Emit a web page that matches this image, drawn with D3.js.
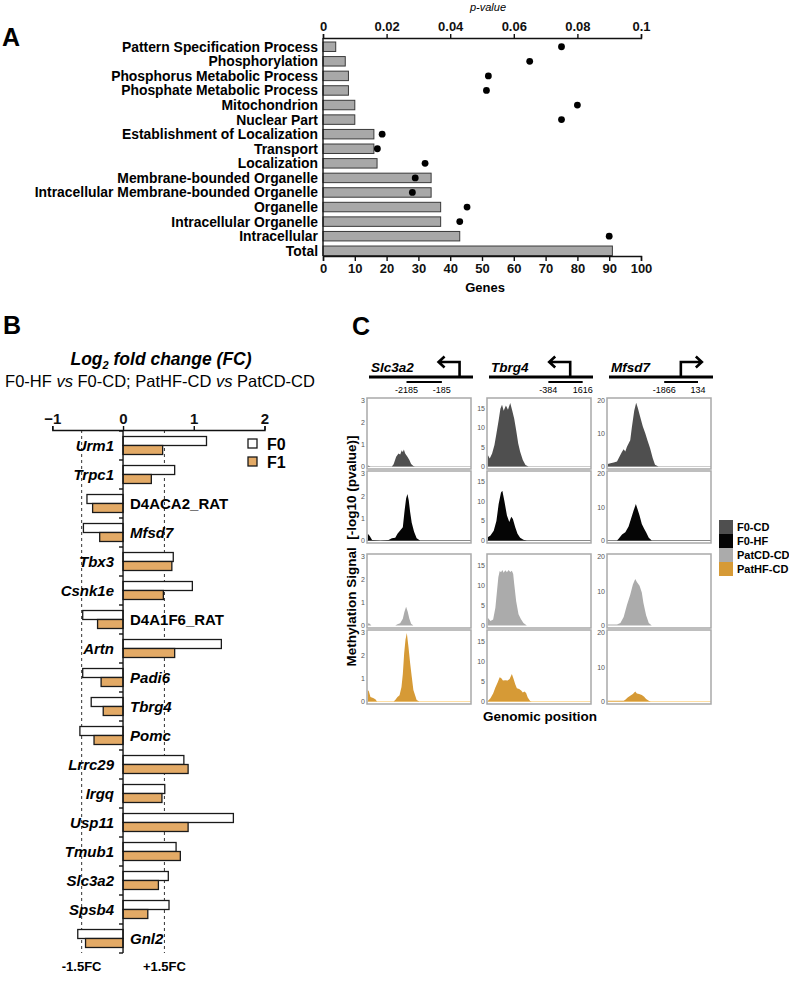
<!DOCTYPE html>
<html>
<head>
<meta charset="utf-8">
<script src="https://cdn.jsdelivr.net/npm/d3@7"></script>
<style>
  body { margin: 0; background: #fff; }
</style>
</head>
<body>
<svg id="fig" width="789" height="999"></svg>
<script>
// ---------- data: panel A (GO enrichment)
const goTerms = ["Pattern Specification Process", "Phosphorylation", "Phosphorus Metabolic Process",
  "Phosphate Metabolic Process", "Mitochondrion", "Nuclear Part", "Establishment of Localization",
  "Transport", "Localization", "Membrane-bounded Organelle", "Intracellular Membrane-bounded Organelle",
  "Organelle", "Intracellular Organelle", "Intracellular", "Total"];
const goGenes = [4, 7, 8, 8, 10, 10, 16, 16, 17, 34, 34, 37, 37, 43, 91];
const goPvals = [0.075, 0.065, 0.052, 0.0514, 0.080, 0.075, 0.0186, 0.0171, 0.0321, 0.029, 0.0281,
  0.0453, 0.043, 0.090, null];
const geneTicks = [0, 10, 20, 30, 40, 50, 60, 70, 80, 90, 100];
const pTicks = [0, 0.02, 0.04, 0.06, 0.08, 0.1];

// ---------- data: panel B (log2 fold change)
const fcGenes = ["Urm1", "Trpc1", "D4ACA2_RAT", "Mfsd7", "Tbx3", "Csnk1e", "D4A1F6_RAT", "Artn", "Padi6",
  "Tbrg4", "Pomc", "Lrrc29", "Irgq", "Usp11", "Tmub1", "Slc3a2", "Spsb4", "Gnl2"];
const fcF0 = [1.18, 0.73, -0.51, -0.56, 0.71, 0.98, -0.57, 1.39, -0.57, -0.45, -0.61, 0.86, 0.59, 1.56, 0.75, 0.64, 0.65, -0.64];
const fcF1 = [0.56, 0.40, -0.43, -0.33, 0.69, 0.57, -0.36, 0.73, -0.31, -0.28, -0.41, 0.92, 0.55, 0.92, 0.81, 0.50, 0.35, -0.53];
const fcTicks = [-1, 0, 1, 2];
const fcThreshold = Math.log2(1.5);

// ---------- data: panel C (methylation signal, [position % of window, -log10 p])
const cGenes = ["Slc3a2", "Tbrg4", "Mfsd7"];
const cGroups = ["F0-CD", "F0-HF", "PatCD-CD", "PatHF-CD"];
const cColors = ["#4f4f4f", "#050505", "#ababab", "#d69a36"];
const cTicks = [[0, 1, 2, 3], [0, 5, 10, 15], [0, 10, 20]];
const cMax = [3, 17, 20];
const regionLabels = [["-2185", "-185"], ["-384", "1616"], ["-1866", "134"]];
const strand = ["-", "-", "+"];

const slc3a2_F0CD = [[0,0.05],[2.6,0],[23.5,0],[25.2,0.1],[27.7,0.45],[30,0.6],[31.6,0.55],[33.2,0.75],[34.2,0.65],
  [35.2,0.78],[36.5,0.6],[38.7,0.45],[40.6,0.3],[42.3,0.12],[44.5,0.02],[46.1,0],[100,0]];
const slc3a2_F0HF = [[0,0.3],[1.9,0.2],[4.2,0.02],[12.3,0],[20.3,0.02],[23.5,0.1],[26.8,0.12],[29,0.3],[31.6,0.45],
  [34.2,0.6],[35.8,1.3],[37.4,1.9],[38.7,2.1],[40,1.8],[41.3,1.3],[42.9,0.8],[45.2,0.4],[47.7,0.1],[51,0],[100,0]];
const slc3a2_PatCD = [[0,0.1],[1.9,0.08],[3.5,0],[26.8,0],[29,0.05],[31.6,0.1],[34.2,0.3],[35.8,0.6],[37.4,0.82],
  [39,0.6],[40.6,0.3],[42.3,0.08],[44.5,0],[100,0]];
const slc3a2_PatHF = [[0,0.5],[1,0.45],[2.6,0.2],[5.2,0.15],[7.4,0.1],[9,0],[25.2,0],[26.8,0.07],[29,0.2],[31,0.27],
  [32.9,0.63],[34.2,1.2],[35.5,2.1],[36.8,2.7],[38.1,3.0],[39.7,2.4],[41.3,1.7],[42.9,1.1],[44.5,0.5],[47.7,0.07],[50.3,0],[100,0]];

const tbrg4_F0CD = [[0,3.0],[1.9,2.1],[4.2,3.4],[6.5,5.6],[8.4,8.5],[10.6,12],[12.3,15],[13.9,16],[15.5,14.5],[17.7,15.8],
  [19.7,14.7],[21.9,16.5],[23.9,14.5],[25.8,12.4],[27.7,9.4],[29.7,6],[31.6,3.8],[34.2,1.7],[36.8,0.4],[39.7,0],[100,0]];
const tbrg4_F0HF = [[0,0.85],[2.6,1.3],[5.8,2.5],[8.4,5],[10.6,9.3],[12.9,12.3],[14.2,12.7],[16.1,10.2],[18.7,6.4],
  [21,4.7],[22.9,6.1],[24.5,5.5],[26.8,3.4],[29,1.7],[31.6,0.7],[34.8,0.2],[38.1,0],[100,0]];
const tbrg4_PatCD = [[0,1.9],[2.6,1.1],[5.2,1.5],[7.4,4.4],[9,8.6],[10.3,12],[11.6,13.5],[12.9,13.2],[14.2,13.8],
  [15.5,13.1],[17.1,13.7],[18.7,13.2],[20.3,13.8],[21.9,13.3],[23.5,13.6],[24.8,12.8],[25.8,10.3],[27.7,6],[30,2.8],
  [32.3,1.6],[34.8,0.65],[38.1,0],[100,0]];
const tbrg4_PatHF = [[0,0.15],[2.6,0.8],[5.2,2],[7.4,3.5],[9.7,4.75],[11.6,6],[13.2,5.8],[14.8,5.2],[17.1,5.3],[19.4,5.2],
  [21.3,5.6],[23.5,6.8],[25.2,5.6],[26.8,4.3],[28.4,3.3],[30.6,3.1],[32.6,2.7],[34.2,2.25],[35.8,2.5],[37.4,2.1],
  [39,1],[41.3,0.15],[42.9,0],[100,0]];

const mfsd7_F0CD = [[0,0.8],[2.6,1.0],[5.8,1.2],[9,1.5],[10.6,2.5],[13.9,4.5],[15.5,5.3],[17.1,4.6],[18.7,6],[21.9,8],
  [23.5,12],[25.8,17],[27.7,19.5],[29.4,17.8],[31.6,15.2],[34.2,12.2],[36.5,10.2],[38.7,8],[41.3,5.6],[43.9,2.5],
  [46.1,0.5],[49.4,0],[100,0]];
const mfsd7_F0HF = [[0,0],[9,0],[10.6,0.5],[13.9,1.8],[17.1,2.5],[20.3,4.2],[22.6,6.5],[25.2,9],[27.4,11],[29,9.5],
  [31,7.5],[33.2,5],[35.5,3.5],[37.4,2.5],[40,0.8],[42.9,0],[100,0]];
const mfsd7_PatCD = [[0,0.3],[9,0.3],[12.3,0.7],[15.5,2.5],[18.7,6],[21.9,9],[24.5,12],[26.8,13.6],[28.4,12.7],
  [31,11.6],[33.2,9.6],[34.8,6.6],[37.4,3],[40,0.7],[42.9,0],[100,0]];
const mfsd7_PatHF = [[0,0.2],[15.5,0.2],[17.1,0.5],[19.4,1.2],[21.9,1.7],[24.5,2.2],[26.8,2.9],[28.4,2.35],[30.6,2.2],
  [33.2,1.9],[35.5,1.4],[37.4,0.7],[40,0.2],[41.9,0],[100,0]];

const cProfiles = [
  [slc3a2_F0CD, slc3a2_F0HF, slc3a2_PatCD, slc3a2_PatHF],
  [tbrg4_F0CD, tbrg4_F0HF, tbrg4_PatCD, tbrg4_PatHF],
  [mfsd7_F0CD, mfsd7_F0HF, mfsd7_PatCD, mfsd7_PatHF]
];

// ---------- drawing
const FONT = '"Liberation Sans", Arial, Helvetica, sans-serif';
const svg = d3.select("#fig").attr("font-family", FONT);

function styleAxis(g, size) {
  g.select(".domain").attr("stroke", "#111").attr("stroke-width", 1.4);
  g.selectAll(".tick line").attr("stroke", "#111").attr("stroke-width", 1.4);
  g.selectAll(".tick text").attr("font-family", FONT).attr("font-weight", "bold")
    .attr("font-size", size).attr("fill", "#111");
}

function panelLetter(t, x, y) {
  svg.append("text").attr("x", x).attr("y", y).attr("font-size", 25).attr("font-weight", "bold").text(t);
}

// ===== Panel A
panelLetter("A", 2, 46);

const xA = d3.scaleLinear().domain([0, 100]).range([323, 641]);
const pA = d3.scaleLinear().domain([0, 0.1]).range([323, 641]);
const yA = d3.scaleBand().domain(goTerms).range([42, 255.5]).paddingInner(0.35).paddingOuter(0);

const gA = svg.append("g");

gA.selectAll("rect.bar").data(goTerms).join("rect")
  .attr("class", "bar")
  .attr("x", xA(0))
  .attr("y", d => yA(d))
  .attr("width", (d, i) => xA(goGenes[i]) - xA(0))
  .attr("height", yA.bandwidth())
  .attr("fill", "#a8a8a8")
  .attr("stroke", "#3a3a3a")
  .attr("stroke-width", 1);

gA.selectAll("circle").data(goTerms.filter((d, i) => goPvals[i] !== null)).join("circle")
  .attr("cx", d => pA(goPvals[goTerms.indexOf(d)]))
  .attr("cy", d => yA(d) + yA.bandwidth() / 2)
  .attr("r", 3.4)
  .attr("fill", "#000");

gA.selectAll("text.term").data(goTerms).join("text")
  .attr("class", "term")
  .attr("x", 318)
  .attr("y", d => yA(d) + yA.bandwidth() / 2)
  .attr("dy", "0.36em")
  .attr("text-anchor", "end")
  .attr("font-size", 13.9)
  .attr("font-weight", "bold")
  .text(d => d);

// left spine
gA.append("line").attr("x1", xA(0)).attr("x2", xA(0)).attr("y1", 38).attr("y2", 256)
  .attr("stroke", "#111").attr("stroke-width", 1.4);

const topAxisA = gA.append("g").attr("transform", "translate(0,38)")
  .call(d3.axisTop(pA).tickValues(pTicks).tickSize(4).tickPadding(3)
    .tickFormat(d => String(+d.toFixed(2))));
styleAxis(topAxisA, 13);

const botAxisA = gA.append("g").attr("transform", "translate(0,256)")
  .call(d3.axisBottom(xA).tickValues(geneTicks).tickSize(5).tickPadding(3));
styleAxis(botAxisA, 13);

gA.append("text").attr("x", 488).attr("y", 11).attr("text-anchor", "middle")
  .attr("font-size", 11).attr("font-style", "italic").text("p-value");
gA.append("text").attr("x", 485).attr("y", 292).attr("text-anchor", "middle")
  .attr("font-size", 13).attr("font-weight", "bold").text("Genes");

// ===== Panel B
panelLetter("B", 3, 334);

const xB = d3.scaleLinear().domain([-1, 2]).range([52.3, 264.5]);
const yB = d3.scaleBand().domain(fcGenes).range([431, 953]).paddingInner(0.38).paddingOuter(0.19);
const yIn = d3.scaleBand().domain(["F0", "F1"]).range([0, yB.bandwidth()]);
const stepB = yB.step();
const gB = svg.append("g");

const titleB = gB.append("text").attr("x", 161).attr("y", 365).attr("text-anchor", "middle")
  .attr("font-size", 17.5).attr("font-weight", "bold").attr("font-style", "italic");
titleB.append("tspan").text("Log");
titleB.append("tspan").attr("font-size", 11).attr("dy", 4).text("2");
titleB.append("tspan").attr("dy", -4).text(" fold change (FC)");

const subB = gB.append("text").attr("x", 160).attr("y", 387).attr("text-anchor", "middle").attr("font-size", 16.5);
subB.append("tspan").text("F0-HF ");
subB.append("tspan").attr("font-style", "italic").text("vs");
subB.append("tspan").text(" F0-CD; PatHF-CD ");
subB.append("tspan").attr("font-style", "italic").text("vs");
subB.append("tspan").text(" PatCD-CD");

const yEnd = yB.range()[1];

// dashed 1.5 FC guides
gB.selectAll("line.guide").data([-fcThreshold, fcThreshold]).join("line")
  .attr("class", "guide")
  .attr("x1", d => xB(d)).attr("x2", d => xB(d))
  .attr("y1", 430).attr("y2", yEnd)
  .attr("stroke", "#333").attr("stroke-width", 1).attr("stroke-dasharray", "3,3");

const barsB = gB.selectAll("g.gene").data(fcGenes).join("g")
  .attr("class", "gene")
  .attr("transform", d => `translate(0,${yB(d)})`);

barsB.append("rect")
  .attr("x", (d, i) => xB(Math.min(0, fcF0[i])))
  .attr("y", yIn("F0"))
  .attr("width", (d, i) => Math.abs(xB(fcF0[i]) - xB(0)))
  .attr("height", yIn.bandwidth())
  .attr("fill", "#fff").attr("stroke", "#1a1a1a").attr("stroke-width", 1.3);

barsB.append("rect")
  .attr("x", (d, i) => xB(Math.min(0, fcF1[i])))
  .attr("y", yIn("F1"))
  .attr("width", (d, i) => Math.abs(xB(fcF1[i]) - xB(0)))
  .attr("height", yIn.bandwidth())
  .attr("fill", "#e3aa66").attr("stroke", "#1a1a1a").attr("stroke-width", 1.3);

barsB.append("text")
  .attr("x", (d, i) => fcF0[i] >= 0 ? xB(0) - 9 : xB(0) + 7)
  .attr("y", yB.bandwidth() / 2)
  .attr("dy", "0.36em")
  .attr("text-anchor", (d, i) => fcF0[i] >= 0 ? "end" : "start")
  .attr("font-size", 15)
  .attr("font-weight", "bold")
  .attr("font-style", d => d.endsWith("_RAT") ? "normal" : "italic")
  .text(d => d);

// vertical zero axis with ticks between genes
gB.append("line").attr("x1", xB(0)).attr("x2", xB(0)).attr("y1", 430).attr("y2", yEnd)
  .attr("stroke", "#111").attr("stroke-width", 1.4);
gB.selectAll("line.sep").data(d3.range(fcGenes.length + 1)).join("line")
  .attr("class", "sep")
  .attr("x1", xB(0) - 4).attr("x2", xB(0))
  .attr("y1", k => yB.range()[0] + k * stepB).attr("y2", k => yB.range()[0] + k * stepB)
  .attr("stroke", "#111").attr("stroke-width", 1.4);

const topAxisB = gB.append("g").attr("transform", "translate(0,430)")
  .call(d3.axisTop(xB).tickValues(fcTicks).tickSize(4).tickPadding(2).tickFormat(d3.format("d")));
styleAxis(topAxisB, 15);

// legend
const legB = [["F0", "#fff"], ["F1", "#e3aa66"]];
legB.forEach((l, i) => {
  gB.append("rect").attr("x", 248).attr("y", 439 + i * 18).attr("width", 9).attr("height", 9)
    .attr("fill", l[1]).attr("stroke", "#1a1a1a").attr("stroke-width", 1.3);
  gB.append("text").attr("x", 267).attr("y", 449.5 + i * 18).attr("font-size", 16)
    .attr("font-weight", "bold").text(l[0]);
});

gB.selectAll("text.fc").data([-fcThreshold, fcThreshold]).join("text")
  .attr("class", "fc")
  .attr("x", d => xB(d)).attr("y", yEnd + 18)
  .attr("text-anchor", "middle").attr("font-size", 13).attr("font-weight", "bold")
  .text(d => d < 0 ? "-1.5FC" : "+1.5FC");

// ===== Panel C
panelLetter("C", 352, 335);

const colLefts = [367, 487, 607], colW = 104;
const rowTops = [398, 471, 554, 630], rowBots = [469, 543, 628, 704];
const tssFrac = [0.89, 0.80, 0.71];
const regionFrac = [[0.38, 0.72], [0.59, 0.92], [0.55, 0.875]];
const gC = svg.append("g");

cGenes.forEach((gene, c) => {
  const x0 = colLefts[c], x1 = colLefts[c] + colW;
  // gene track
  gC.append("line").attr("x1", x0 + 2).attr("x2", x1 + 2).attr("y1", 377).attr("y2", 377)
    .attr("stroke", "#000").attr("stroke-width", 2.8);
  gC.append("text").attr("x", x0 + 4).attr("y", 372).attr("font-size", 13.5)
    .attr("font-weight", "bold").attr("font-style", "italic").text(gene);
  const tx = x0 + tssFrac[c] * colW;
  const dir = strand[c] === "+" ? 1 : -1;
  const tip = tx + dir * 21;
  gC.append("path")
    .attr("d", `M${tx},377 V362 H${tip} M${tip - dir * 6},356.5 L${tip},362 L${tip - dir * 6},367.5`)
    .attr("fill", "none").attr("stroke", "#000").attr("stroke-width", 2.6);
  const r0 = x0 + regionFrac[c][0] * colW, r1 = x0 + regionFrac[c][1] * colW;
  gC.append("line").attr("x1", r0).attr("x2", r1).attr("y1", 382).attr("y2", 382)
    .attr("stroke", "#000").attr("stroke-width", 2.2);
  gC.append("text").attr("x", r0).attr("y", 393).attr("text-anchor", "middle").attr("font-size", 9).text(regionLabels[c][0]);
  gC.append("text").attr("x", r1).attr("y", 393).attr("text-anchor", "middle").attr("font-size", 9).text(regionLabels[c][1]);

  const xC = d3.scaleLinear().domain([0, 100]).range([x0 + 0.8, x1 - 0.8]);
  cGroups.forEach((grp, r) => {
    const yC = d3.scaleLinear().domain([0, cMax[c]]).range([rowBots[r] - 2.5, rowTops[r] + 3]);
    const area = d3.area().x(d => xC(d[0])).y0(yC(0)).y1(d => yC(d[1]));
    gC.append("line").attr("x1", x0).attr("x2", x1).attr("y1", yC(0)).attr("y2", yC(0))
      .attr("stroke", d3.color(cColors[r]).brighter(r === 3 ? 0.6 : 1.8)).attr("stroke-width", 0.8).attr("opacity", 0.6);
    gC.append("path").datum(cProfiles[c][r]).attr("d", area).attr("fill", cColors[r]);
    gC.append("rect").attr("x", x0).attr("y", rowTops[r]).attr("width", colW)
      .attr("height", rowBots[r] - rowTops[r])
      .attr("fill", "none").attr("stroke", "#a9a9a9").attr("stroke-width", 1.5);
    gC.selectAll(null).data(cTicks[c]).join("text")
      .attr("x", x0 - 2).attr("y", d => yC(d)).attr("dy", "0.35em")
      .attr("text-anchor", "end").attr("font-size", 7).attr("fill", "#555").text(d => d);
  });
});

gC.append("text").attr("transform", "translate(356,551) rotate(-90)").attr("text-anchor", "middle")
  .attr("font-size", 13.5).attr("font-weight", "bold").text("Methylation Signal\u00a0 [-log10 (pvalue)]");
gC.append("text").attr("x", 540).attr("y", 721).attr("text-anchor", "middle")
  .attr("font-size", 13.5).attr("font-weight", "bold").text("Genomic position");

// legend C
cGroups.forEach((grp, i) => {
  gC.append("rect").attr("x", 719).attr("y", 520 + i * 14).attr("width", 14).attr("height", 14)
    .attr("fill", cColors[i]);
  gC.append("text").attr("x", 737).attr("y", 527 + i * 14).attr("dy", "0.36em")
    .attr("font-size", 11).attr("font-weight", "bold").text(grp);
});
</script>
</body>
</html>
